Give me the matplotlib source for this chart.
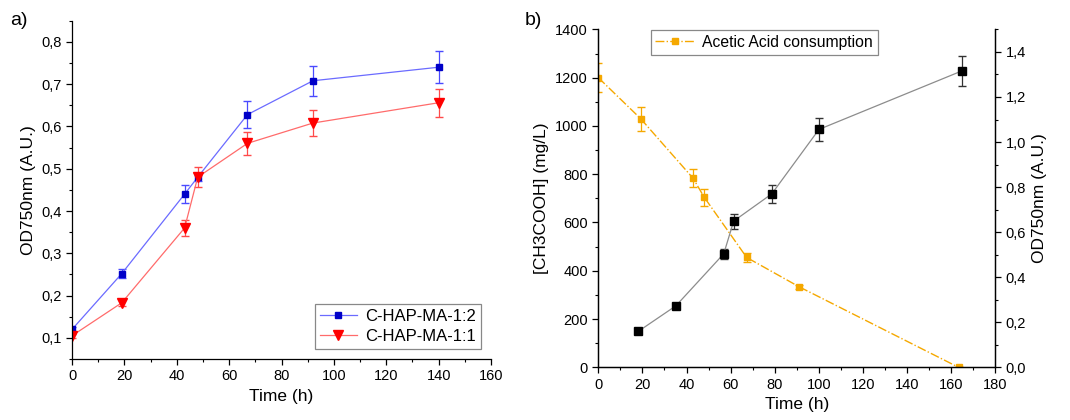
import numpy as np
import matplotlib
matplotlib.use("Agg")
from matplotlib import pyplot as plt
from matplotlib.ticker import MultipleLocator, FuncFormatter
from matplotlib.lines import Line2D

plt.rcParams['font.family'] = ['Liberation Sans', 'DejaVu Sans']

# pannello a)
t_a = [0, 19, 43, 48, 67, 92, 140]
od_12 = [0.12, 0.252, 0.44, 0.48, 0.628, 0.708, 0.74]
err_12 = [0.005, 0.01, 0.022, 0.01, 0.032, 0.035, 0.038]
od_11 = [0.105, 0.183, 0.36, 0.48, 0.56, 0.608, 0.656]
err_11 = [0.005, 0.008, 0.018, 0.024, 0.028, 0.031, 0.033]

# pannello b)
t_acid = [0, 19.2, 43, 48, 67.3, 91.2, 163.4]
acid = [1200, 1030, 783, 705, 455, 333, 0]
err_acid = [60, 50, 38, 35, 20, 10, 0]
t_od = [18.2, 35.2, 56.9, 61.4, 78.7, 100.1, 165]
od_b = [0.16, 0.273, 0.504, 0.649, 0.77, 1.056, 1.316]
err_od_b = [0.01, 0.008, 0.023, 0.033, 0.04, 0.052, 0.067]

orange = "#F5A800"
blue_l, blue_m = "#6b6bff", "#0000c8"
red_l, red_m = "#ff6b6b", "#ff0000"


def comma(dec):
    return FuncFormatter(lambda v, p: f"{v:.{dec}f}".replace(".", ","))


def style(ax):
    ax.tick_params(direction="out", labelsize=10.5, length=4, width=0.9)
    ax.tick_params(which="minor", direction="out", length=2.5, width=0.8)
    for s in ax.spines.values():
        s.set_linewidth(0.9)


fig = plt.figure(figsize=(10.7, 4.2), dpi=100)

# --- a)
ax1 = fig.add_axes([0.0673, 0.1452, 0.3916, 0.8055])
ax1.errorbar(t_a, od_12, yerr=err_12, color=blue_l, lw=0.9,
             marker="s", ms=5, mfc=blue_m, mec=blue_m,
             ecolor="#4a4aff", elinewidth=0.9, capsize=3)
ax1.errorbar(t_a, od_11, yerr=err_11, color=red_l, lw=0.9,
             marker="v", ms=6.5, mfc=red_m, mec=red_m,
             ecolor="#ff4a4a", elinewidth=0.9, capsize=3)
ax1.set_xlim(0, 160)
ax1.set_ylim(0.05, 0.85)
ax1.xaxis.set_major_locator(MultipleLocator(20))
ax1.xaxis.set_minor_locator(MultipleLocator(10))
ax1.yaxis.set_major_locator(MultipleLocator(0.1))
ax1.yaxis.set_minor_locator(MultipleLocator(0.05))
ax1.yaxis.set_major_formatter(comma(1))
ax1.spines["top"].set_visible(False)
ax1.spines["right"].set_visible(False)
style(ax1)
ax1.set_xlabel("Time (h)", fontsize=12.5)
ax1.set_ylabel("OD750nm (A.U.)", fontsize=12.5)
h1 = [Line2D([], [], color=blue_l, lw=0.9, marker="s", ms=5, mfc=blue_m, mec=blue_m),
      Line2D([], [], color=red_l, lw=0.9, marker="v", ms=6.5, mfc=red_m, mec=red_m)]
leg = ax1.legend(h1, ["C-HAP-MA-1:2", "C-HAP-MA-1:1"], loc="lower right",
                 fontsize=12, fancybox=False, edgecolor="#888888", framealpha=1,
                 handlelength=2.2, handletextpad=0.5, borderaxespad=0.6,
                 borderpad=0.3, labelspacing=0.3)
leg.get_frame().set_linewidth(0.9)

# --- b)
ax2 = fig.add_axes([0.5592, 0.1255, 0.3708, 0.8045])
ax2.errorbar(t_acid, acid, yerr=err_acid, color=orange, lw=1.0, ls="-.",
             marker="s", ms=5, mfc=orange, mec=orange,
             ecolor=orange, elinewidth=0.9, capsize=3)
ax2.set_xlim(0, 180)
ax2.set_ylim(0, 1400)
ax2.xaxis.set_major_locator(MultipleLocator(20))
ax2.xaxis.set_minor_locator(MultipleLocator(10))
ax2.yaxis.set_major_locator(MultipleLocator(200))
ax2.yaxis.set_minor_locator(MultipleLocator(100))
ax2.spines["top"].set_visible(False)
style(ax2)
ax2.set_xlabel("Time (h)", fontsize=12.5)
ax2.set_ylabel("[CH3COOH] (mg/L)", fontsize=12.5)
h2 = [Line2D([], [], color=orange, lw=1.0, ls="-.", marker="s", ms=5,
             mfc=orange, mec=orange)]
leg2 = ax2.legend(h2, ["Acetic Acid consumption"], loc="upper left",
                  bbox_to_anchor=(0.13, 1.0), fontsize=11.3, fancybox=False,
                  edgecolor="#888888", framealpha=1, handlelength=2.5,
                  handletextpad=0.5, borderaxespad=0.05, borderpad=0.3)
leg2.get_frame().set_linewidth(0.9)

ax3 = ax2.twinx()
ax3.errorbar(t_od, od_b, yerr=err_od_b, color="#8c8c8c", lw=0.9,
             marker="s", ms=5.5, mfc="black", mec="black",
             ecolor="#333333", elinewidth=0.9, capsize=3)
ax3.set_ylim(0, 1.5)
ax3.yaxis.set_major_locator(MultipleLocator(0.2))
ax3.yaxis.set_minor_locator(MultipleLocator(0.1))
ax3.yaxis.set_major_formatter(comma(1))
ax3.spines["top"].set_visible(False)
style(ax3)
ax3.set_ylabel("OD750nm (A.U.)", fontsize=12.5)

fig.text(0.009, 0.94, "a)", fontsize=14)
fig.text(0.49, 0.94, "b)", fontsize=14)

fig.savefig("out.png", dpi=100)
